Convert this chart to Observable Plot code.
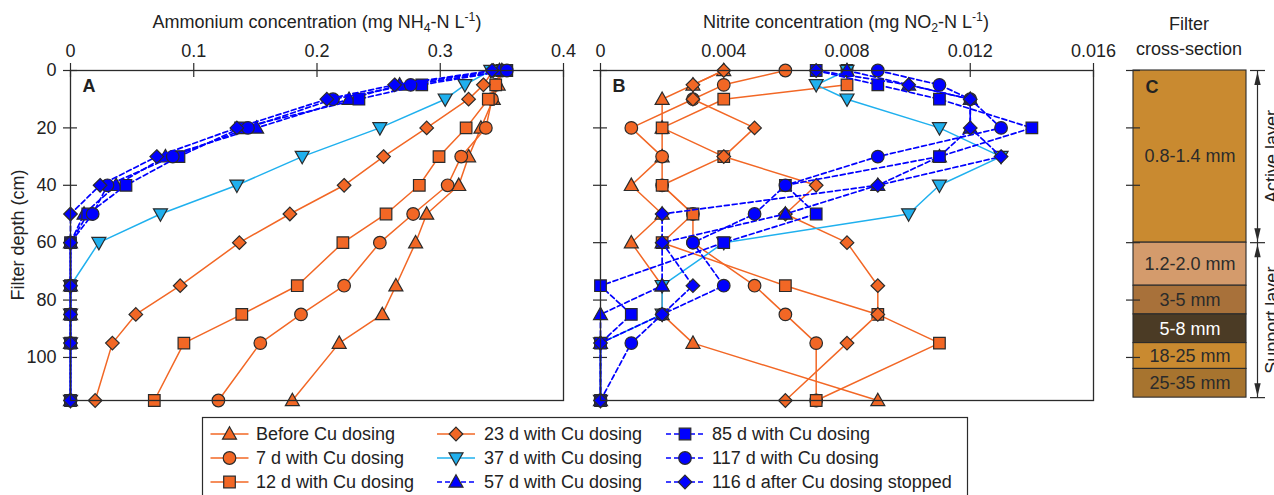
<!DOCTYPE html>
<html><head><meta charset="utf-8">
<script src="https://cdn.jsdelivr.net/npm/d3@7"></script>
<script src="https://cdn.jsdelivr.net/npm/@observablehq/plot@0.6"></script>
<style>
body{margin:0;background:#fff;font-family:"Liberation Sans",Arial,sans-serif;color:#222;}
#wrap{position:relative;width:1274px;height:495px;overflow:hidden;background:#fff;}
#wrap svg{position:absolute;overflow:visible;}
.ttl{position:absolute;transform:translate(-50%,-50%);font-size:18px;line-height:1;white-space:nowrap;}
.ttl sub,.ttl sup{font-size:0.68em;line-height:0;}
.ttl sub{vertical-align:-0.3em;}
.ttl sup{vertical-align:0.55em;}
</style></head><body><div id="wrap"></div>
<script>
// ---------------- DATA ----------------
const depth = [0, 5, 10, 20, 30, 40, 50, 60, 75, 85, 95, 115];
const seriesNames = ["Before Cu dosing", "7 d with Cu dosing", "12 d with Cu dosing",
  "23 d with Cu dosing", "37 d with Cu dosing", "57 d with Cu dosing",
  "85 d with Cu dosing", "117 d with Cu dosing", "116 d after Cu dosing stopped"];

// Ammonium (mg NH4-N/L)
const nh4Before = [0.350, 0.347, 0.343, 0.333, 0.323, 0.315, 0.289, 0.280, 0.264, 0.253, 0.218, 0.180];
const nh4D7     = [0.350, 0.345, 0.342, 0.337, 0.317, 0.306, 0.278, 0.251, 0.222, 0.187, 0.154, 0.120];
const nh4D12    = [0.350, 0.345, 0.339, 0.321, 0.299, 0.283, 0.256, 0.221, 0.184, 0.139, 0.092, 0.068];
const nh4D23    = [0.343, 0.335, 0.323, 0.289, 0.254, 0.222, 0.178, 0.137, 0.089, 0.053, 0.034, 0.020];
const nh4D37    = [0.341, 0.320, 0.304, 0.251, 0.188, 0.135, 0.073, 0.023, 0, 0, 0, 0];
const nh4D57    = [0.348, 0.267, 0.226, 0.151, 0.077, 0.037, 0.011, 0, 0, 0, 0, 0];
const nh4D85    = [0.354, 0.285, 0.234, 0.138, 0.088, 0.045, 0.014, 0, 0, 0, 0, 0];
const nh4D117   = [0.354, 0.276, 0.213, 0.144, 0.083, 0.030, 0.018, 0, 0, 0, 0, 0];
const nh4After116 = [0.342, 0.263, 0.208, 0.135, 0.070, 0.024, 0, 0, 0, 0, 0, 0];

// Nitrite (mg NO2-N/L)
const no2Before = [0.004, 0.003, 0.002, 0.002, 0.002, 0.001, 0.002, 0.001, 0.002, 0.002, 0.003, 0.009];
const no2D7     = [0.006, 0.004, 0.003, 0.001, 0.002, 0.002, 0.003, 0.003, 0.005, 0.006, 0.007, 0.007];
const no2D12    = [0.008, 0.008, 0.004, 0.002, 0.004, 0.002, 0.003, 0.002, 0.006, 0.009, 0.011, 0.007];
const no2D23    = [0.004, 0.003, 0.003, 0.005, 0.004, 0.007, 0.006, 0.008, 0.009, 0.009, 0.008, 0.006];
const no2D37    = [0.008, 0.007, 0.008, 0.011, 0.013, 0.011, 0.010, 0.004, 0.002, 0.002, 0, 0];
const no2D57    = [0.008, 0.010, 0.012, 0.012, 0.011, 0.009, 0.006, 0.002, 0.002, 0, 0, 0];
const no2D85    = [0.007, 0.009, 0.011, 0.014, 0.011, 0.006, 0.007, 0.004, 0, 0.001, 0, 0];
const no2D117   = [0.009, 0.011, 0.012, 0.013, 0.009, 0.006, 0.005, 0.003, 0.004, 0.002, 0.001, 0];
const no2After116 = [0.007, 0.010, 0.012, 0.012, 0.013, 0.009, 0.002, 0.002, 0.003, 0.002, 0, 0];

const nh4Ticks = [0, 0.1, 0.2, 0.3, 0.4];
const nh4TickLabels = ["0", "0.1", "0.2", "0.3", "0.4"];
const no2Ticks = [0, 0.004, 0.008, 0.012, 0.016];
const no2TickLabels = ["0", "0.004", "0.008", "0.012", "0.016"];
const depthTicks = [0, 20, 40, 60, 80, 100];
const depthTickLabels = ["0", "20", "40", "60", "80", "100"];

// Filter cross-section layers (depth in cm)
const layerLabels = ["0.8-1.4 mm", "1.2-2.0 mm", "3-5 mm", "5-8 mm", "18-25 mm", "25-35 mm"];
const layerTop    = [0, 60, 75, 85, 95, 104];
const layerBottom = [60, 75, 85, 95, 104, 114];
const zoneLabels = ["Active layer", "Support layer"];
const zoneTop = [0, 60];
const zoneBottom = [60, 114];

// ---------------- STYLE ----------------
const ORANGE = "#f26725", CYAN = "#1fb0ee", BLUE = "#0000ff", INK = "#2b2b2b";
const FONT = "'Liberation Sans', Arial, sans-serif";
const layerFill = ["#c98a30", "#d49b6c", "#a8713a", "#4b3b25", "#c98a30", "#a7742f"];
const layerText = ["#2b2b2b", "#2b2b2b", "#2b2b2b", "#ffffff", "#2b2b2b", "#2b2b2b"];

function sc(size) { return Math.sqrt(size / Math.PI) / 6.5; }
const SYM = {
  triUp: {draw(c, s) { const k = sc(s); c.moveTo(0, -7.2*k); c.lineTo(7*k, 5.2*k); c.lineTo(-7*k, 5.2*k); c.closePath(); }},
  triDown: {draw(c, s) { const k = sc(s); c.moveTo(0, 7.2*k); c.lineTo(7*k, -5.2*k); c.lineTo(-7*k, -5.2*k); c.closePath(); }},
  circle: {draw(c, s) { const k = sc(s); c.moveTo(6.3*k, 0); c.arc(0, 0, 6.3*k, 0, 2*Math.PI); c.closePath(); }},
  square: {draw(c, s) { const k = sc(s), h = 5.8*k; c.rect(-h, -h, 2*h, 2*h); }},
  diamond: {draw(c, s) { const k = sc(s), h = 6.8*k; c.moveTo(0, -h); c.lineTo(h, 0); c.lineTo(0, h); c.lineTo(-h, 0); c.closePath(); }},
  headUp: {draw(c) { c.moveTo(0, 0); c.lineTo(3.2, 13); c.lineTo(-3.2, 13); c.closePath(); }},
  headDown: {draw(c) { c.moveTo(0, 0); c.lineTo(3.2, -13); c.lineTo(-3.2, -13); c.closePath(); }}
};
const DASH = "5,3";
const seriesStyle = [
  {color: ORANGE, sym: "triUp", dash: null},
  {color: ORANGE, sym: "circle", dash: null},
  {color: ORANGE, sym: "square", dash: null},
  {color: ORANGE, sym: "diamond", dash: null},
  {color: CYAN, sym: "triDown", dash: null},
  {color: BLUE, sym: "triUp", dash: DASH},
  {color: BLUE, sym: "square", dash: DASH},
  {color: BLUE, sym: "circle", dash: DASH},
  {color: BLUE, sym: "diamond", dash: DASH}
];

const nh4Series = [nh4Before, nh4D7, nh4D12, nh4D23, nh4D37, nh4D57, nh4D85, nh4D117, nh4After116];
const no2Series = [no2Before, no2D7, no2D12, no2D23, no2D37, no2D57, no2D85, no2D117, no2After116];

// layout (pixels)
const TOP = 70, BOTTOM_Y = 400, PW = 580, PH = 410;
const Y_DOMAIN = [0, 115];
const TICK = 7;

function seriesMarks(seriesVals) {
  const marks = [];
  seriesVals.forEach((vals, i) => {
    const st = seriesStyle[i];
    const data = depth.map((d, j) => ({depth: d, v: vals[j]}));
    marks.push(Plot.line(data, {x: "v", y: "depth", stroke: st.color, strokeWidth: st.dash ? 1.7 : 1.5,
      strokeDasharray: st.dash || undefined}));
    marks.push(Plot.dot(data, {x: "v", y: "depth", symbol: SYM[st.sym], r: 6.5, fill: st.color,
      stroke: INK, strokeWidth: 1.2}));
  });
  return marks;
}

function dataPanel({seriesVals, xDomain, xTicks, xLabels, showYLabels, letter}) {
  const mL = 70, mR = 17;
  const xPerPx = (xDomain[1] - xDomain[0]) / (PW - mL - mR);
  const yPerPx = (Y_DOMAIN[1] - Y_DOMAIN[0]) / (BOTTOM_Y - TOP);
  return Plot.plot({
    width: PW, height: PH, marginLeft: mL, marginRight: mR, marginTop: TOP, marginBottom: PH - BOTTOM_Y,
    x: {domain: xDomain, axis: null},
    y: {domain: Y_DOMAIN, reverse: true, axis: null},
    style: {fontFamily: FONT, fontSize: "18px", color: "#222", background: "transparent", overflow: "visible"},
    marks: [
      Plot.ruleX(xTicks, {x: d => d, y1: Y_DOMAIN[0] - TICK * yPerPx, y2: Y_DOMAIN[0] + TICK * yPerPx, stroke: INK, strokeWidth: 1.2}),
      Plot.ruleY(depthTicks, {y: d => d, x1: xDomain[0] - TICK * xPerPx, x2: xDomain[0] + TICK * xPerPx, stroke: INK, strokeWidth: 1.2}),
      Plot.axisX({anchor: "top", ticks: xTicks, tickSize: 0, tickPadding: 14, label: null,
        tickFormat: d => xLabels[xTicks.indexOf(d)], fontSize: 18}),
      showYLabels ? Plot.axisY({anchor: "left", ticks: depthTicks, tickSize: 0, tickPadding: 14, label: null,
        tickFormat: d => depthTickLabels[depthTicks.indexOf(d)], fontSize: 18}) : null,
      ...seriesMarks(seriesVals),
      Plot.frame({stroke: INK, strokeWidth: 1.3}),
      Plot.text([letter], {frameAnchor: "top-left", dx: 12, dy: 9, fontWeight: "bold", fontSize: 18, fill: "#222"})
    ]
  });
}

const wrap = document.getElementById("wrap");

const svgA = dataPanel({seriesVals: nh4Series, xDomain: [0, 0.4], xTicks: nh4Ticks, xLabels: nh4TickLabels, showYLabels: true, letter: "A"});
svgA.style.left = "0px"; svgA.style.top = "0px";
wrap.appendChild(svgA);

const svgB = dataPanel({seriesVals: no2Series, xDomain: [0, 0.016], xTicks: no2Ticks, xLabels: no2TickLabels, showYLabels: false, letter: "B"});
svgB.style.left = "530px"; svgB.style.top = "0px";
wrap.appendChild(svgB);

// Panel C
(function () {
  const W = 174, mL = 33, mR = 28;
  const xPerPx = 1 / (W - mL - mR);
  const yPerPx = (Y_DOMAIN[1] - Y_DOMAIN[0]) / (BOTTOM_Y - TOP);
  const layers = layerLabels.map((l, i) => ({label: l, y1: layerTop[i], y2: layerBottom[i], i}));
  const zones = zoneLabels.map((l, i) => ({label: l, y1: zoneTop[i], y2: zoneBottom[i]}));
  const arrowX = 1 + 11 * xPerPx;
  const heads = [];
  zones.forEach(z => { heads.push({y: z.y1 + 1.5 * yPerPx, s: "headUp"}); heads.push({y: z.y2 - 1.5 * yPerPx, s: "headDown"}); });
  const caps = [...new Set(zones.flatMap(z => [z.y1, z.y2]))];
  const svgC = Plot.plot({
    width: W, height: PH, marginLeft: mL, marginRight: mR, marginTop: TOP, marginBottom: PH - BOTTOM_Y,
    x: {domain: [0, 1], axis: null},
    y: {domain: Y_DOMAIN, reverse: true, axis: null},
    style: {fontFamily: FONT, fontSize: "18px", color: "#222", background: "transparent", overflow: "visible"},
    marks: [
      Plot.rect(layers, {x1: 0, x2: 1, y1: "y1", y2: "y2", fill: d => layerFill[d.i], stroke: INK, strokeWidth: 1.1}),
      Plot.ruleY(depthTicks, {y: d => d, x1: -TICK * xPerPx, x2: TICK * xPerPx, stroke: INK, strokeWidth: 1.2}),
      Plot.text(layers, {x: 0.5, y: d => (d.y1 + d.y2) / 2, text: "label", fill: d => layerText[d.i], fontSize: 18}),
      Plot.text(["C"], {frameAnchor: "top-left", dx: 12, dy: 10, fontWeight: "bold", fontSize: 18, fill: "#222"}),
      Plot.ruleX(zones, {x: arrowX, y1: "y1", y2: "y2", stroke: INK, strokeWidth: 1.2}),
      Plot.ruleY(caps, {y: d => d, x1: arrowX - 7 * xPerPx, x2: arrowX + 8 * xPerPx, stroke: INK, strokeWidth: 1.2}),
      Plot.dot(heads, {x: arrowX, y: "y", symbol: d => SYM[d.s], fill: INK, stroke: "none", r: 5}),
      Plot.text(zones, {x: arrowX, y: d => (d.y1 + d.y2) / 2, text: "label", rotate: -90, dx: 15, fontSize: 18, fill: "#222"})
    ],
    color: {type: "identity"}
  });
  svgC.style.left = "1100px"; svgC.style.top = "0px";
  wrap.appendChild(svgC);
})();

// Titles
function addHTML(html, x, y, extra) {
  const d = document.createElement("div");
  d.className = "ttl"; d.innerHTML = html;
  d.style.left = x + "px"; d.style.top = y + "px";
  if (extra) d.style.transform = extra;
  wrap.appendChild(d);
}
addHTML("Ammonium concentration (mg NH<sub>4</sub>-N L<sup>-1</sup>)", 317, 22);
addHTML("Nitrite concentration (mg NO<sub>2</sub>-N L<sup>-1</sup>)", 846, 22);
addHTML("Filter", 1189, 24);
addHTML("cross-section", 1189, 49);
addHTML("Filter depth (cm)", 18, 235, "translate(-50%,-50%) rotate(-90deg)");

// Legend
(function () {
  const svg = d3.select(wrap).append("svg").attr("width", 1274).attr("height", 495)
    .style("left", "0px").style("top", "0px").attr("font-family", FONT);
  svg.append("rect").attr("x", 202.5).attr("y", 417.5).attr("width", 765).attr("height", 100)
    .attr("fill", "#fff").attr("stroke", INK).attr("stroke-width", 1.2);
  const colX = [229.5, 456, 685], textX = [256, 484, 712], rowY = [434, 458, 482];
  seriesNames.forEach((name, i) => {
    const col = Math.floor(i / 3), row = i % 3, st = seriesStyle[i];
    const cx = colX[col], cy = rowY[row];
    svg.append("line").attr("x1", cx - 19).attr("x2", cx + 19).attr("y1", cy).attr("y2", cy)
      .attr("stroke", st.color).attr("stroke-width", st.dash ? 1.7 : 1.5).attr("stroke-dasharray", st.dash);
    const p = d3.path(); SYM[st.sym].draw(p, Math.PI * 6.5 * 6.5);
    svg.append("path").attr("d", p.toString()).attr("transform", `translate(${cx},${cy})`)
      .attr("fill", st.color).attr("stroke", INK).attr("stroke-width", 1.2);
    svg.append("text").attr("x", textX[col]).attr("y", cy).attr("dy", "0.35em").attr("font-size", 18)
      .attr("fill", "#222").text(name);
  });
})();
</script></body></html>
